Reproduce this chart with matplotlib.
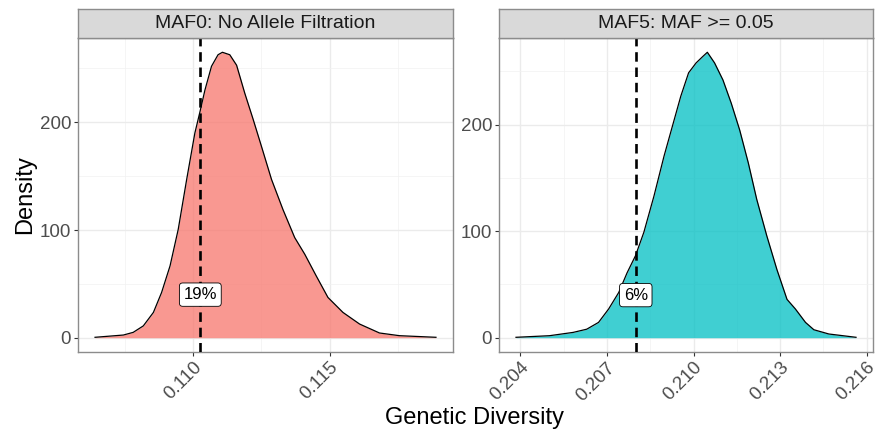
# Density panels of genetic diversity (two facets, ggplot theme_bw look)
import numpy as np
import matplotlib
matplotlib.use("Agg")
import matplotlib.pyplot as plt
from matplotlib.ticker import FixedLocator

plt.rcParams['font.family'] = ['Liberation Sans', 'DejaVu Sans']

# data
maf0_x = [0.10640, 0.10744, 0.10780, 0.10817, 0.10854, 0.10884, 0.10915, 0.10945,
          0.10976, 0.11006, 0.11024, 0.11043, 0.11067, 0.11091, 0.11107, 0.11134,
          0.11159, 0.11189, 0.11220, 0.11250, 0.11287, 0.11329, 0.11372, 0.11409,
          0.11451, 0.11494, 0.11549, 0.11610, 0.11683, 0.11756, 0.11890]
maf0_y = [0.4, 2.5, 5, 11, 23.5, 42, 66.7, 100.6,
          147, 190, 209, 230, 252, 262.7, 265, 262.7,
          253, 227, 202.5, 177.8, 147, 119, 93, 77.5,
          57.4, 37.4, 23.5, 12.7, 4.4, 1.9, 0.4]
maf5_x = [0.20385, 0.20501, 0.20583, 0.20630, 0.20671, 0.20706, 0.20741, 0.20770,
          0.20799, 0.20828, 0.20863, 0.20898, 0.20927, 0.20956, 0.20983, 0.21009,
          0.21032, 0.21048, 0.21073, 0.21102, 0.21131, 0.21160, 0.21190, 0.21219,
          0.21254, 0.21289, 0.21324, 0.21353, 0.21388, 0.21417, 0.21469, 0.21563]
maf5_y = [0.4, 1.9, 5, 8, 14.4, 27, 42.5, 61,
          77, 99, 133, 170.6, 198.7, 226.8, 248.7, 258,
          264, 268, 258, 242, 220, 195, 164, 130,
          95.6, 64, 36, 27, 14.4, 7.5, 3.5, 0.4]

titles = ["MAF0: No Allele Filtration", "MAF5: MAF >= 0.05"]
fills = ["#F8766D", "#00BFC4"]
cutoffs = [0.11026, 0.2080]
pct_labels = ["19%", "6%"]
label_y = 40
major_x = [[0.110, 0.115], [0.204, 0.207, 0.210, 0.213, 0.216]]
minor_x = [[0.1075, 0.1125, 0.1175], [0.2055, 0.2085, 0.2115, 0.2145]]

W, H = 887, 434
fig = plt.figure(figsize=(W / 100, H / 100), dpi=100)
fig.patch.set_facecolor("white")

panels = [(78, 453), (499, 873)]
top, bottom, strip_top = 38, 352, 9
border = "#8C8C8C"

series = [(maf0_x, maf0_y), (maf5_x, maf5_y)]
for i, ((xs, ys), (px0, px1)) in enumerate(zip(series, panels)):
    ax = fig.add_axes([px0 / W, 1 - bottom / H, (px1 - px0) / W, (bottom - top) / H])
    xs = np.array(xs)
    ys = np.array(ys)
    ax.fill_between(xs, 0, ys, color=fills[i], alpha=0.75, lw=0, zorder=2)
    ax.plot(xs, ys, color="black", lw=0.9, zorder=3, solid_joinstyle="round")
    ax.axvline(cutoffs[i], color="black", lw=1.9, ls=(0, (3.6, 2.2)), zorder=4)
    ax.text(cutoffs[i], label_y, pct_labels[i], ha="center", va="center", fontsize=12,
            color="black", zorder=5,
            bbox=dict(boxstyle="round,pad=0.25,rounding_size=0.2", fc="white", ec="black", lw=0.6))

    xr = xs.max() - xs.min()
    ax.set_xlim(xs.min() - 0.05 * xr, xs.max() + 0.05 * xr)
    pk = ys.max()
    ax.set_ylim(-0.05 * pk, 1.05 * pk)

    ax.xaxis.set_major_locator(FixedLocator(major_x[i]))
    ax.xaxis.set_minor_locator(FixedLocator(minor_x[i]))
    ax.yaxis.set_major_locator(FixedLocator([0, 100, 200]))
    ax.yaxis.set_minor_locator(FixedLocator([50, 150, 250]))
    ax.set_xticklabels([f"{v:.3f}" for v in major_x[i]])
    ax.grid(which="major", color="#EBEBEB", lw=1.0, zorder=0)
    ax.grid(which="minor", color="#F2F2F2", lw=0.5, zorder=0)
    ax.set_axisbelow(True)
    ax.tick_params(which="major", length=3, width=0.8, color="#333333",
                   labelsize=13.5, labelcolor="#4D4D4D", pad=2)
    ax.tick_params(which="minor", length=0)
    for lab in ax.get_xticklabels():
        lab.set_rotation(45)
        lab.set_ha("right")
        lab.set_va("top")
        lab.set_rotation_mode("anchor")
    for sp in ax.spines.values():
        sp.set_color(border)
        sp.set_linewidth(1.0)

    # facet strip
    sax = fig.add_axes([px0 / W, 1 - top / H, (px1 - px0) / W, (top - strip_top) / H])
    sax.set_facecolor("#D9D9D9")
    sax.set_xticks([])
    sax.set_yticks([])
    for sp in sax.spines.values():
        sp.set_color(border)
        sp.set_linewidth(1.0)
    sax.text(0.5, 0.5, titles[i], ha="center", va="center", fontsize=14,
             color="#1A1A1A", transform=sax.transAxes)

fig.text(25 / W, 1 - 195 / H, "Density", rotation=90, ha="center", va="center", fontsize=17)
fig.text(475 / W, 1 - 418 / H, "Genetic Diversity", ha="center", va="center", fontsize=17)

fig.savefig("out.png", dpi=100, facecolor="white")
